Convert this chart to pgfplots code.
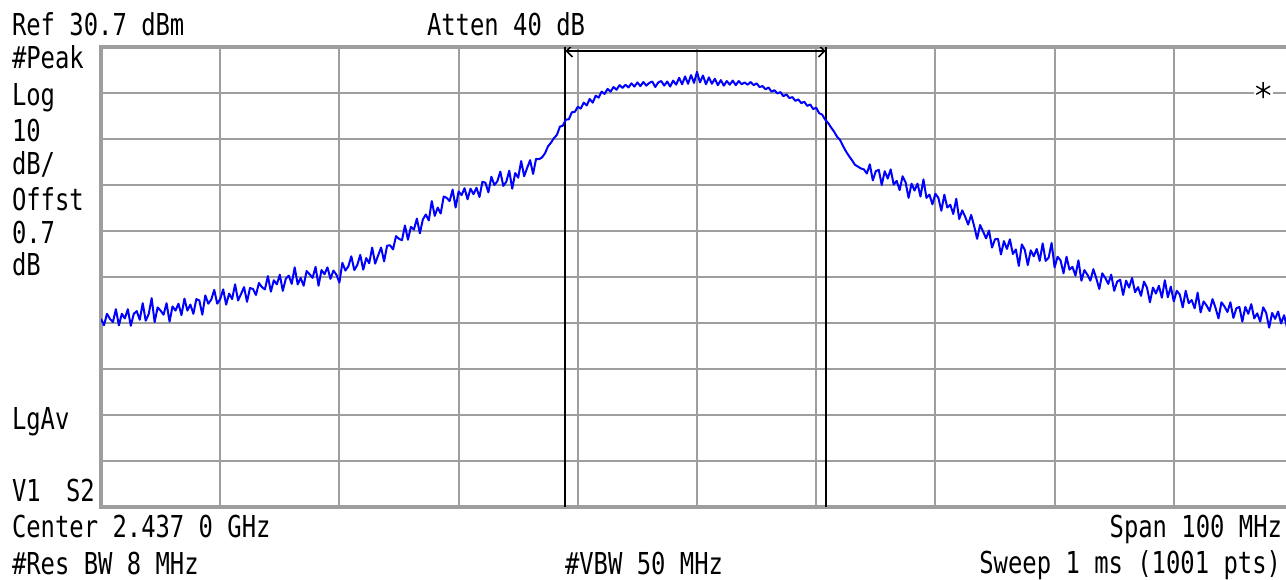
\documentclass[border=0pt]{standalone}
\usepackage{fontspec}
\usepackage{pgfplots}
\pgfplotsset{compat=1.18}
\usetikzlibrary{arrows.meta}
\newfontfamily\saf[FakeStretch=0.79]{DejaVu Sans Mono}
\definecolor{gridgray}{RGB}{158,158,158}
\definecolor{traceblue}{RGB}{0,0,255}
% screen position in pixels (origin top left, 0.5pt per pixel)
\newcommand{\lbl}[4][base west]{\node[anchor=#1, inner sep=0pt, outer sep=0pt,
  font=\saf\fontsize{15.1}{18}\selectfont] at ({#2*0.5pt},{(579-#3)*0.5pt}) {#4};}

\begin{document}
\begin{tikzpicture}
\useasboundingbox (0,0) rectangle (643pt,289.5pt);
\begin{axis}[
  at={(50.5pt,36pt)}, anchor=south west,
  scale only axis, width=596pt, height=230pt,
  xmin=-50, xmax=50, ymin=-69.3, ymax=30.7,
  xtick={-50,-40,-30,-20,-10,0,10,20,30,40,50},
  ytick={-69.3,-59.3,-49.3,-39.3,-29.3,-19.3,-9.3,0.7,10.7,20.7,30.7},
  xticklabels={}, yticklabels={}, major tick length=0pt,
  grid=major, grid style={gridgray, line width=1pt},
  axis line style={gridgray, line width=1.6pt},
  clip=true,
]
% band markers
\addplot[black, line width=1pt] coordinates {(-11.05,-69.3) (-11.05,30.7)};
\addplot[black, line width=1pt] coordinates {(10.8,-69.3) (10.8,30.7)};
\addplot[black, line width=0.8pt, {Straight Barb[length=3pt,width=6pt]}-{Straight Barb[length=3pt,width=6pt]}]
  coordinates {(-11.05,29.83) (10.8,29.83)};
% spectrum trace, frequency offset from centre in MHz, level in dBm
\addplot[traceblue, line width=1pt, line join=round] coordinates {
(-50.00,-28.4) (-49.75,-29.8) (-49.50,-27.3) (-49.25,-28.4)
(-49.00,-29.1) (-48.75,-26.3) (-48.50,-29.8) (-48.25,-27.3)
(-48.00,-28.3) (-47.75,-26.3) (-47.50,-29.9) (-47.25,-27.3)
(-47.00,-26.7) (-46.75,-28.6) (-46.50,-25.0) (-46.25,-28.8)
(-46.00,-27.4) (-45.75,-23.9) (-45.50,-29.1) (-45.25,-25.9)
(-45.00,-26.6) (-44.75,-27.5) (-44.50,-25.0) (-44.25,-29.0)
(-44.00,-25.7) (-43.75,-26.6) (-43.50,-25.1) (-43.25,-27.6)
(-43.00,-24.0) (-42.75,-26.6) (-42.50,-25.3) (-42.25,-27.3)
(-42.00,-24.1) (-41.75,-24.4) (-41.50,-27.5) (-41.25,-23.3)
(-41.00,-25.1) (-40.75,-24.2) (-40.50,-22.1) (-40.25,-25.1)
(-40.00,-24.1) (-39.75,-22.0) (-39.50,-25.3) (-39.25,-22.9)
(-39.00,-24.1) (-38.75,-20.9) (-38.50,-24.4) (-38.25,-23.0)
(-38.00,-21.5) (-37.75,-24.7) (-37.50,-21.7) (-37.25,-21.9)
(-37.00,-23.2) (-36.75,-20.6) (-36.50,-21.5) (-36.25,-22.0)
(-36.00,-19.1) (-35.75,-22.5) (-35.50,-20.0) (-35.25,-20.9)
(-35.00,-18.8) (-34.75,-22.3) (-34.50,-19.7) (-34.25,-19.0)
(-34.00,-20.8) (-33.75,-17.2) (-33.50,-20.9) (-33.25,-19.5)
(-33.00,-21.2) (-32.75,-18.0) (-32.50,-18.7) (-32.25,-19.5)
(-32.00,-17.1) (-31.75,-21.2) (-31.50,-17.8) (-31.25,-18.7)
(-31.00,-17.2) (-30.75,-19.7) (-30.50,-17.9) (-30.25,-18.8)
(-30.00,-20.5) (-29.75,-16.2) (-29.50,-17.9) (-29.25,-17.0)
(-29.00,-14.8) (-28.75,-17.8) (-28.50,-16.7) (-28.25,-14.5)
(-28.00,-17.7) (-27.75,-15.2) (-27.50,-16.3) (-27.25,-12.9)
(-27.00,-16.4) (-26.75,-14.6) (-26.50,-12.9) (-26.25,-15.9)
(-26.00,-12.5) (-25.75,-12.4) (-25.50,-13.3) (-25.25,-10.4)
(-25.00,-11.0) (-24.75,-11.3) (-24.50,-8.1) (-24.25,-11.2)
(-24.00,-8.4) (-23.75,-9.0) (-23.50,-6.6) (-23.25,-9.8)
(-23.00,-6.8) (-22.75,-5.7) (-22.50,-7.0) (-22.25,-2.8)
(-22.00,-6.0) (-21.75,-4.2) (-21.50,-5.5) (-21.25,-1.8)
(-21.00,-2.1) (-20.75,-2.8) (-20.50,-0.3) (-20.25,-4.2)
(-20.00,-0.7) (-19.75,-1.5) (-19.50,0.0) (-19.25,-2.4)
(-19.00,-0.1) (-18.75,-1.3) (-18.50,0.1) (-18.25,-1.9)
(-18.00,1.4) (-17.75,1.2) (-17.50,-0.9) (-17.25,2.5)
(-17.00,0.7) (-16.75,1.5) (-16.50,3.6) (-16.25,0.5)
(-16.00,1.4) (-15.75,3.8) (-15.50,-0.1) (-15.25,3.3)
(-15.00,2.3) (-14.75,5.9) (-14.50,2.6) (-14.25,4.4)
(-14.00,6.1) (-13.75,3.1) (-13.50,6.4) (-13.25,6.3)
(-13.00,6.7) (-12.75,7.6) (-12.50,9.1) (-12.25,9.9)
(-12.00,10.9) (-11.75,11.6) (-11.50,13.4) (-11.25,13.6)
(-11.00,14.9) (-10.75,15.0) (-10.50,16.5) (-10.25,16.6)
(-10.00,17.7) (-9.75,17.3) (-9.50,18.6) (-9.25,18.0)
(-9.00,19.4) (-8.75,18.6) (-8.50,20.1) (-8.25,19.7)
(-8.00,21.0) (-7.75,20.5) (-7.50,21.6) (-7.25,21.0)
(-7.00,22.0) (-6.75,21.4) (-6.50,22.4) (-6.25,21.8)
(-6.00,22.5) (-5.75,21.9) (-5.50,22.8) (-5.25,22.1)
(-5.00,23.0) (-4.75,22.2) (-4.50,23.1) (-4.25,22.3)
(-4.00,22.9) (-3.75,23.2) (-3.50,22.0) (-3.25,23.0)
(-3.00,23.3) (-2.75,22.3) (-2.50,23.2) (-2.25,22.1)
(-2.00,23.4) (-1.75,22.5) (-1.50,24.0) (-1.25,22.6)
(-1.00,24.3) (-0.75,22.7) (-0.50,24.6) (-0.25,22.9)
(0.00,25.3) (0.25,23.0) (0.50,24.5) (0.75,22.6)
(1.00,24.1) (1.25,22.7) (1.50,23.8) (1.75,22.4)
(2.00,23.5) (2.25,22.3) (2.50,23.3) (2.75,22.5)
(3.00,23.4) (3.25,22.4) (3.50,23.3) (3.75,22.6)
(4.00,23.0) (4.25,22.5) (4.50,23.1) (4.75,22.4)
(5.00,22.8) (5.25,22.0) (5.50,22.2) (5.75,21.5)
(6.00,21.9) (6.25,21.0) (6.50,21.3) (6.75,20.6)
(7.00,20.9) (7.25,20.0) (7.50,20.4) (7.75,19.6)
(8.00,19.8) (8.25,19.0) (8.50,19.3) (8.75,18.5)
(9.00,18.8) (9.25,17.9) (9.50,18.2) (9.75,17.2)
(10.00,17.5) (10.25,16.3) (10.50,16.0) (10.75,14.9)
(11.00,14.2) (11.25,13.2) (11.50,12.3) (11.75,11.2)
(12.00,10.5) (12.25,9.2) (12.50,8.0) (12.75,7.0)
(13.00,6.1) (13.25,5.1) (13.50,4.7) (13.75,4.3)
(14.00,4.1) (14.25,3.2) (14.50,5.2) (14.75,1.7)
(15.00,3.7) (15.25,4.0) (15.50,0.7) (15.75,3.7)
(16.00,2.1) (16.25,4.1) (16.50,0.8) (16.75,1.6)
(17.00,-0.4) (17.25,2.6) (17.50,1.3) (17.75,-2.1)
(18.00,1.0) (18.25,-0.5) (18.50,1.0) (18.75,-1.8)
(19.00,1.9) (19.25,-2.1) (19.50,-1.4) (19.75,-3.5)
(20.00,-1.2) (20.25,-2.1) (20.50,-4.9) (20.75,-1.4)
(21.00,-4.2) (21.25,-3.6) (21.50,-5.6) (21.75,-2.3)
(22.00,-6.7) (22.25,-4.8) (22.50,-6.2) (22.75,-7.9)
(23.00,-5.8) (23.25,-8.2) (23.50,-11.0) (23.75,-8.0)
(24.00,-9.4) (24.25,-10.9) (24.50,-9.2) (24.75,-12.9)
(25.00,-11.1) (25.25,-11.0) (25.50,-14.4) (25.75,-11.5)
(26.00,-13.2) (26.25,-11.1) (26.50,-14.3) (26.75,-13.3)
(27.00,-16.9) (27.25,-12.2) (27.50,-13.4) (27.75,-16.7)
(28.00,-13.5) (28.25,-14.8) (28.50,-13.2) (28.75,-15.8)
(29.00,-12.0) (29.25,-15.8) (29.50,-15.1) (29.75,-11.9)
(30.00,-17.2) (30.25,-14.9) (30.50,-15.7) (30.75,-18.5)
(31.00,-14.9) (31.25,-17.7) (31.50,-17.1) (31.75,-19.0)
(32.00,-15.7) (32.25,-20.1) (32.50,-17.8) (32.75,-18.8)
(33.00,-20.1) (33.25,-17.6) (33.50,-19.6) (33.75,-21.9)
(34.00,-18.5) (34.25,-19.5) (34.50,-20.8) (34.75,-18.8)
(35.00,-22.3) (35.25,-20.3) (35.50,-19.9) (35.75,-23.2)
(36.00,-20.1) (36.25,-21.6) (36.50,-19.5) (36.75,-22.6)
(37.00,-21.5) (37.25,-23.4) (37.50,-20.3) (37.75,-21.6)
(38.00,-24.8) (38.25,-21.6) (38.50,-22.9) (38.75,-21.2)
(39.00,-23.8) (39.25,-20.0) (39.50,-23.7) (39.75,-21.4)
(40.00,-24.6) (40.25,-22.3) (40.50,-23.1) (40.75,-25.9)
(41.00,-22.3) (41.25,-25.0) (41.50,-24.3) (41.75,-26.1)
(42.00,-22.7) (42.25,-27.0) (42.50,-24.6) (42.75,-25.5)
(43.00,-26.7) (43.25,-24.1) (43.50,-26.0) (43.75,-28.3)
(44.00,-24.8) (44.25,-25.7) (44.50,-26.9) (44.75,-24.8)
(45.00,-28.2) (45.25,-26.1) (45.50,-25.8) (45.75,-29.0)
(46.00,-25.8) (46.25,-27.3) (46.50,-25.2) (46.75,-28.3)
(47.00,-27.2) (47.25,-29.0) (47.50,-25.9) (47.75,-27.1)
(48.00,-30.3) (48.25,-27.1) (48.50,-28.4) (48.75,-26.8)
(49.00,-29.4) (49.25,-27.6) (49.50,-30.3) (49.75,-25.0)
(50.00,-29.1)
};
% marker symbol
\addplot[only marks, mark=square*, mark size=4.5pt, white] coordinates {(47.5,21.3)};
\addplot[only marks, mark=asterisk, mark size=4pt, black, line width=0.7pt] coordinates {(47.5,21.3)};
\end{axis}
% annotation text around the graticule
\lbl{12}{36}{Ref 30.7 dBm}
\lbl{427}{36}{Atten 40 dB}
\lbl{12}{69}{\#Peak}
\lbl{12}{106}{Log}
\lbl{12}{142}{10}
\lbl{12}{175}{dB/}
\lbl{12}{211}{Offst}
\lbl{12}{244}{0.7}
\lbl{12}{276}{dB}
\lbl{12}{430}{LgAv}
\lbl{12}{502}{V1}
\lbl{66}{502}{S2}
\lbl{12}{537}{Center 2.437 0 GHz}
\lbl{12}{574}{\#Res BW 8 MHz}
\lbl{565}{574}{\#VBW 50 MHz}
\lbl[base east]{1282}{537}{Span 100 MHz}
\lbl[base east]{1281}{573}{Sweep 1 ms (1001 pts)}
\end{tikzpicture}
\end{document}
